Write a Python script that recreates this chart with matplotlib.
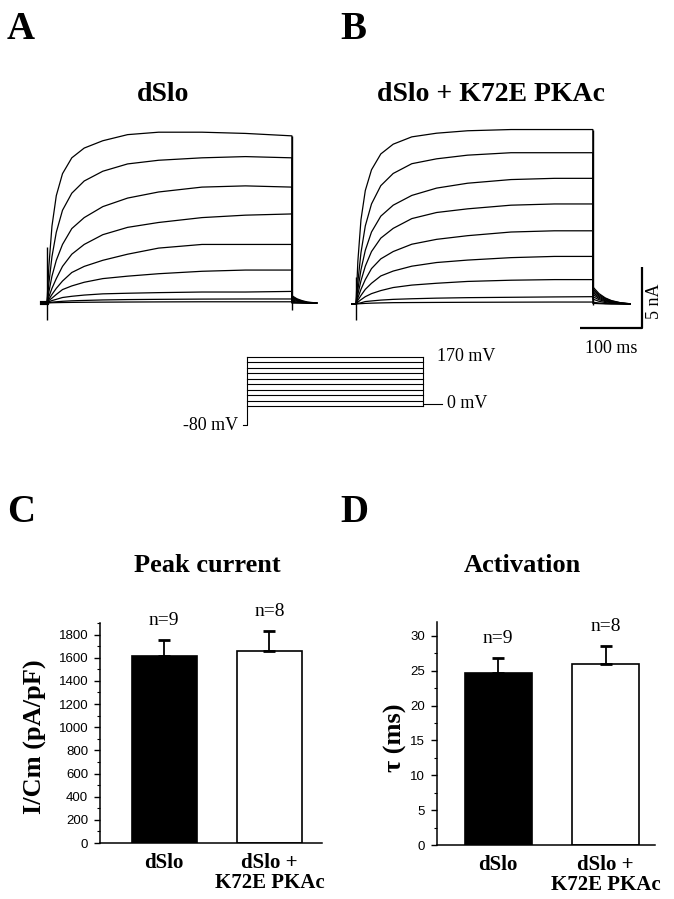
import matplotlib
matplotlib.use('Agg')
import matplotlib.pyplot as plt
from matplotlib.ticker import MultipleLocator

SERIF = ['Liberation Serif', 'DejaVu Serif']
SANS = ['Liberation Sans', 'DejaVu Sans']
plt.rcParams['font.family'] = SANS

# ------------------------------------------------------------------ data
# Panel A (dSlo): current traces in nA sampled at times (ms) after step onset
step_t_A = [0, 3, 8, 15, 25, 40, 60, 90, 130, 180, 250, 320, 395]
traces_A = [
    [0, 3.0, 6.3, 8.8, 10.6, 11.9, 12.7, 13.3, 13.8, 14.0, 14.0, 13.9, 13.7],
    [0, 1.6, 3.8, 5.8, 7.6, 9.0, 10.0, 10.8, 11.4, 11.7, 11.9, 12.0, 11.9],
    [0, 0.9, 2.2, 3.5, 4.8, 6.1, 7.0, 7.9, 8.6, 9.1, 9.5, 9.6, 9.5],
    [0, 0.5, 1.2, 2.0, 3.0, 4.0, 4.8, 5.6, 6.2, 6.6, 7.0, 7.2, 7.3],
    [0, 0.3, 0.7, 1.2, 1.8, 2.5, 3.0, 3.5, 4.0, 4.5, 4.8, 4.8, 4.8],
    [0, 0.2, 0.4, 0.7, 1.1, 1.4, 1.7, 2.0, 2.2, 2.4, 2.6, 2.7, 2.7],
    [0, 0.1, 0.2, 0.3, 0.45, 0.55, 0.65, 0.75, 0.8, 0.85, 0.9, 0.9, 0.95],
    [0, 0.03, 0.07, 0.1, 0.14, 0.18, 0.21, 0.25, 0.28, 0.3, 0.32, 0.33, 0.33],
    [0, 0.01, 0.02, 0.03, 0.04, 0.05, 0.06, 0.07, 0.08, 0.09, 0.1, 0.1, 0.1],
]
tail_t_A = [0, 8, 16, 25, 40]
tails_A = [
    [0.6, 0.35, 0.2, 0.08, 0.0],
    [0.5, 0.3, 0.15, 0.05, 0.0],
    [0.45, 0.25, 0.12, 0.04, 0.0],
    [0.35, 0.2, 0.1, 0.03, 0.0],
    [0.25, 0.15, 0.07, 0.02, 0.0],
    [0.15, 0.08, 0.04, 0.01, 0.0],
    [0.08, 0.04, 0.02, 0.0, 0.0],
    [0.03, 0.02, 0.01, 0.0, 0.0],
    [0.0, 0.0, 0.0, 0.0, 0.0],
]
artifact_on_A = [-1.4, 4.6]
artifact_off_A = -0.6

# Panel B (dSlo + K72E PKAc)
step_t_B = [0, 3, 8, 15, 25, 40, 60, 90, 130, 180, 250, 320, 382]
traces_B = [
    [0, 3.5, 6.9, 9.3, 11.0, 12.3, 13.1, 13.7, 14.0, 14.2, 14.3, 14.3, 14.3],
    [0, 1.8, 4.2, 6.4, 8.2, 9.7, 10.7, 11.5, 11.9, 12.2, 12.4, 12.4, 12.4],
    [0, 1.2, 2.8, 4.4, 5.9, 7.2, 8.1, 8.9, 9.5, 9.9, 10.2, 10.3, 10.3],
    [0, 0.8, 1.9, 3.1, 4.3, 5.4, 6.2, 7.0, 7.5, 7.8, 8.1, 8.2, 8.2],
    [0, 0.5, 1.2, 2.0, 2.9, 3.7, 4.3, 4.9, 5.3, 5.6, 5.9, 6.0, 6.0],
    [0, 0.3, 0.7, 1.2, 1.7, 2.3, 2.7, 3.1, 3.4, 3.6, 3.8, 3.9, 3.9],
    [0, 0.15, 0.35, 0.6, 0.85, 1.1, 1.35, 1.55, 1.7, 1.85, 1.95, 2.0, 2.0],
    [0, 0.05, 0.1, 0.2, 0.25, 0.32, 0.38, 0.43, 0.48, 0.52, 0.55, 0.58, 0.6],
    [0, 0.01, 0.03, 0.05, 0.07, 0.09, 0.11, 0.12, 0.13, 0.14, 0.15, 0.16, 0.16],
]
tail_t_B = [0, 10, 20, 30, 45, 60]
tails_B = [
    [1.4, 0.85, 0.5, 0.28, 0.1, 0.02],
    [1.25, 0.75, 0.45, 0.25, 0.09, 0.02],
    [1.1, 0.65, 0.38, 0.2, 0.07, 0.01],
    [0.95, 0.55, 0.32, 0.17, 0.06, 0.01],
    [0.8, 0.45, 0.26, 0.14, 0.05, 0.01],
    [0.6, 0.35, 0.2, 0.1, 0.04, 0.0],
    [0.4, 0.22, 0.12, 0.06, 0.02, 0.0],
    [0.15, 0.08, 0.04, 0.02, 0.01, 0.0],
    [0.05, 0.03, 0.01, 0.0, 0.0, 0.0],
]
artifact_on_B = [-1.3, 2.2]
artifact_off_B = -0.1

scale_nA = 5
scale_ms = 100

# Voltage protocol (mV)
hold_mV = -80
step_mV = [-10, 10, 30, 50, 70, 90, 110, 130, 150, 170]
tail_mV = 0
prot_pre_ms = -8
prot_step_ms = 400
prot_tail_ms = 43

# Bar charts
groups = ['dSlo', 'dSlo +\nK72E PKAc']
peak_mean = [1612, 1662]
peak_sem = [142, 172]
tau_mean = [24.7, 26.0]
tau_sem = [2.2, 2.6]
n_cells = [9, 8]

# ------------------------------------------------------------------ figure
W, H = 674, 899
fig = plt.figure(figsize=(W / 100, H / 100), dpi=100)


def px_axes(x0, y0, x1, y1):
    return fig.add_axes([x0 / W, 1 - y1 / H, (x1 - x0) / W, (y1 - y0) / H])


def trace_axes(box, origin, px_ms, px_nA):
    x0, y0, x1, y1 = box
    ox, oy = origin
    ax = px_axes(*box)
    ax.set_xlim((x0 - ox) / px_ms, (x1 - ox) / px_ms)
    ax.set_ylim((oy - y1) / px_nA, (oy - y0) / px_nA)
    ax.axis('off')
    return ax


def draw_traces(ax, t_step, traces, tail_t, tails, art_on, art_off, pre):
    end = t_step[-1]
    for tr, tl in zip(traces, tails):
        x = [pre, 0] + list(t_step) + [end + u for u in tail_t]
        y = [0, 0] + list(tr) + list(tl)
        ax.plot(x, y, color='black', lw=0.9, solid_joinstyle='round')
    ax.vlines(0, art_on[0], art_on[1], color='black', lw=1.0)
    ax.vlines(end, art_off, traces[0][-1], color='black', lw=1.0)


PX_MS = 0.62
PX_NA = 12.2

axA = trace_axes((25, 118, 340, 335), (47, 303), PX_MS, PX_NA)
draw_traces(axA, step_t_A, traces_A, tail_t_A, tails_A, artifact_on_A, artifact_off_A, -8)
axA.plot([-8, 0], [0, 0], color='black', lw=3)

axB = trace_axes((340, 118, 672, 362), (356, 304), PX_MS, PX_NA)
draw_traces(axB, step_t_B, traces_B, tail_t_B, tails_B, artifact_on_B, artifact_off_B, -7)

# scale bar
sb_x, sb_y = 461, -1.97
axB.plot([sb_x - scale_ms, sb_x, sb_x], [sb_y, sb_y, sb_y + scale_nA],
         color='black', lw=1.6, solid_capstyle='butt', clip_on=False)
axB.annotate(f'{scale_ms} ms', xy=(sb_x - scale_ms / 2, sb_y), xytext=(0, -15),
             textcoords='offset points', ha='center', va='center',
             family=SERIF, fontsize=13, annotation_clip=False)
axB.annotate(f'{scale_nA} nA', xy=(sb_x, sb_y + scale_nA / 2), xytext=(9, -3),
             textcoords='offset points', ha='center', va='center', rotation=90,
             family=SERIF, fontsize=13, annotation_clip=False)

# voltage protocol
PX_PMS = 0.44
PX_MV = 0.274
px0, py0 = 247, 357  # t=0, V=170
pbox = (150, 340, 480, 440)
axP = px_axes(*pbox)
axP.set_xlim((pbox[0] - px0) / PX_PMS, (pbox[2] - px0) / PX_PMS)
axP.set_ylim(max(step_mV) - (pbox[3] - py0) / PX_MV, max(step_mV) + (py0 - pbox[1]) / PX_MV)
axP.axis('off')
plw = 0.8
for v in step_mV:
    axP.plot([0, prot_step_ms], [v, v], color='black', lw=plw)
axP.plot([prot_pre_ms, 0, 0], [hold_mV, hold_mV, max(step_mV)], color='black', lw=plw)
axP.plot([prot_step_ms, prot_step_ms], [min(step_mV), max(step_mV)], color='black', lw=plw)
axP.plot([prot_step_ms, prot_step_ms + prot_tail_ms], [tail_mV, tail_mV], color='black', lw=plw)
axP.annotate(f'{max(step_mV)} mV', xy=(prot_step_ms, max(step_mV)), xytext=(10, 0),
             textcoords='offset points', ha='left', va='center', family=SERIF, fontsize=13)
axP.annotate(f'{tail_mV} mV', xy=(prot_step_ms + prot_tail_ms, tail_mV), xytext=(4, 0),
             textcoords='offset points', ha='left', va='center', family=SERIF, fontsize=13)
axP.annotate(f'{hold_mV} mV', xy=(prot_pre_ms, hold_mV), xytext=(-4, 0),
             textcoords='offset points', ha='right', va='center', family=SERIF, fontsize=13)


# bar panels
def bar_panel(box, xlim, ylim, means, sems, major, minor, ylabel, ylabel_xy):
    ax = px_axes(*box)
    xs = list(range(len(means)))
    ax.bar(xs, means, width=0.62, color=['black', 'white'], edgecolor='black',
           linewidth=1.2, zorder=2)
    ax.errorbar(xs, means, yerr=[[0] * len(sems), sems], fmt='none', ecolor='black',
                elinewidth=1.3, capsize=4, capthick=2.0, zorder=3)
    for x, m, s, n in zip(xs, means, sems, n_cells):
        ax.annotate(f'n={n}', xy=(x, m + s), xytext=(0, 14), textcoords='offset points',
                    ha='center', va='center', family=SERIF, fontsize=14,
                    annotation_clip=False)
    ax.set_xlim(*xlim)
    ax.set_ylim(*ylim)
    ax.yaxis.set_major_locator(MultipleLocator(major))
    ax.yaxis.set_minor_locator(MultipleLocator(minor))
    for s in ('top', 'right'):
        ax.spines[s].set_visible(False)
    for s in ('left', 'bottom'):
        ax.spines[s].set_linewidth(1.1)
    ax.tick_params(axis='y', which='major', direction='out', length=4.5, width=1.0,
                   labelsize=9.5, pad=4)
    ax.tick_params(axis='y', which='minor', direction='out', length=2.5, width=0.8)
    ax.set_xticks(xs)
    ax.set_xticklabels(groups, family=SERIF, fontweight='bold', fontsize=15,
                       linespacing=1.0)
    ax.tick_params(axis='x', length=0, pad=7)
    fig.text(ylabel_xy[0] / W, 1 - ylabel_xy[1] / H, ylabel, rotation=90,
             ha='center', va='center', family=SERIF, fontweight='bold', fontsize=19)
    return ax


axC = bar_panel((100, 623, 322, 843), (-0.61, 1.5), (0, 1900), peak_mean, peak_sem,
                200, 100, 'I/Cm (pA/pF)', (35, 737))
axD = bar_panel((437, 622, 655, 845), (-0.57, 1.46), (0, 32), tau_mean, tau_sem,
                5, 2.5, 'τ (ms)', (395, 738))


def ftext(x, y, s, size, ha='center', va='baseline', weight='bold'):
    fig.text(x / W, 1 - y / H, s, ha=ha, va=va, family=SERIF, fontweight=weight,
             fontsize=size)


ftext(7, 39, 'A', 28, ha='left')
ftext(340, 39, 'B', 28, ha='left')
ftext(163, 101, 'dSlo', 20)
ftext(491, 101, 'dSlo + K72E PKAc', 20)
ftext(7, 522, 'C', 28, ha='left')
ftext(340, 522, 'D', 28, ha='left')
ftext(207, 565, 'Peak current', 19, va='center')
ftext(522, 565, 'Activation', 19, va='center')

fig.savefig('out.png', dpi=100, facecolor='white')
